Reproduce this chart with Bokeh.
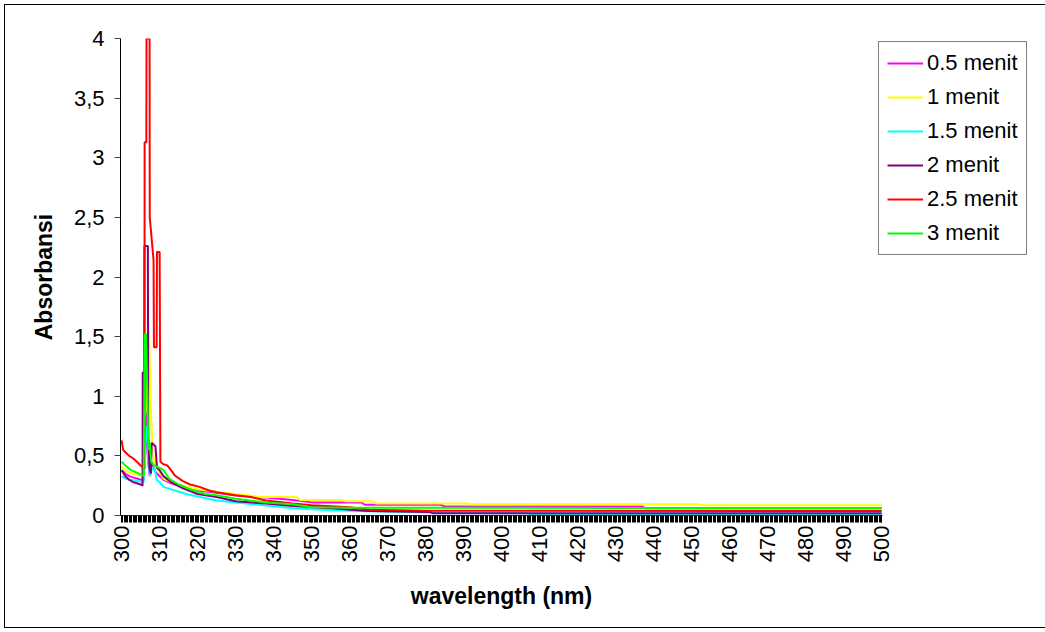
from bokeh.plotting import figure
from bokeh.models import (Range1d, SingleIntervalTicker, CustomJSTickFormatter, Legend,
                          LegendItem)
from bokeh.embed import file_html
from bokeh.resources import INLINE
import math

# ---------------- data ----------------
series_labels = ["0.5 menit", "1 menit", "1.5 menit", "2 menit", "2.5 menit", "3 menit"]
series_colors = ["#FF00FF", "#FFFF00", "#00FFFF", "#800080", "#FF0000", "#00FF00"]

wl_05 = [300, 301, 302, 303, 304, 305, 305.8, 305.9, 306.3, 306.6, 307.0, 307.4, 307.8, 308.4,
         309.0, 310, 311, 313, 316, 320, 325, 330, 338, 345, 350, 363, 364, 384, 385, 437, 438, 500]
abs_05 = [0.38, 0.35, 0.33, 0.32, 0.31, 0.30, 0.30, 1.2, 1.2, 0.6, 0.45, 0.33, 0.45, 0.40,
          0.36, 0.33, 0.30, 0.27, 0.24, 0.21, 0.19, 0.168, 0.15, 0.13, 0.11, 0.11, 0.09, 0.09,
          0.075, 0.075, 0.06, 0.06]

wl_1 = [300, 301, 302, 303, 304, 305, 305.8, 305.9, 306.5, 306.7, 307.2, 307.6, 308.0, 308.4,
        309, 310, 311, 313, 316, 320, 325, 333, 336, 346, 347, 358, 359, 366, 367, 391, 392,
        452, 453, 500]
abs_1 = [0.41, 0.38, 0.36, 0.35, 0.34, 0.335, 0.33, 0.8, 0.9, 1.52, 1.55, 1.0, 0.62, 0.5,
         0.42, 0.36, 0.31, 0.28, 0.25, 0.22, 0.2, 0.17, 0.155, 0.155, 0.13, 0.13, 0.12, 0.12,
         0.10, 0.10, 0.094, 0.094, 0.085, 0.085]

wl_15 = [300, 301, 302, 303, 304, 305, 305.8, 305.9, 306.4, 306.8, 307.0, 307.5, 308.0, 308.7,
         309.2, 310, 311, 314, 317, 320, 325, 330, 338, 345, 355, 365, 384, 407, 408, 500]
abs_15 = [0.33, 0.31, 0.30, 0.295, 0.29, 0.285, 0.28, 0.7, 0.75, 0.6, 0.45, 0.33, 0.40, 0.40,
          0.30, 0.28, 0.24, 0.21, 0.18, 0.16, 0.126, 0.11, 0.084, 0.06, 0.044, 0.035, 0.024,
          0.018, 0.008, 0.008]

wl_2 = [300, 301, 302, 303, 304, 305, 305.5, 305.55, 305.95, 306.0, 306.9, 307.0, 307.3, 307.7,
        307.9, 308.9, 309.3, 310, 311, 313, 316, 320, 325, 330, 338, 345, 355, 365, 381, 382, 500]
abs_2 = [0.38, 0.33, 0.30, 0.28, 0.27, 0.26, 0.25, 1.2, 1.2, 2.26, 2.26, 0.7, 0.4, 0.35,
         0.61, 0.58, 0.40, 0.38, 0.33, 0.28, 0.23, 0.18, 0.155, 0.12, 0.1, 0.08, 0.06, 0.038,
         0.03, 0.018, 0.018]

wl_25 = [300, 300.4, 301, 302, 303, 304, 305, 306.0, 306.05, 306.5, 306.55, 307.35, 307.4,
         308.4, 308.5, 309.2, 309.3, 310.0, 310.2, 311, 312, 313, 314, 316, 318, 320.5, 323,
         325, 330, 334, 338, 345, 350, 360, 365, 380, 500]
abs_25 = [0.63, 0.55, 0.53, 0.50, 0.48, 0.45, 0.42, 0.39, 3.13, 3.13, 4.0, 4.0, 2.5,
          2.14, 1.41, 1.41, 2.21, 2.21, 0.45, 0.43, 0.42, 0.38, 0.335, 0.29, 0.26, 0.24, 0.21,
          0.195, 0.17, 0.155, 0.126, 0.1, 0.086, 0.07, 0.048, 0.04, 0.038]

wl_3 = [300, 301, 302.5, 304, 305.5, 305.8, 305.9, 306.1, 306.4, 306.8, 307.0, 307.4, 307.8,
        308.5, 310, 311, 312.5, 315, 318, 322, 325, 330, 338, 345, 350, 360, 500]
abs_3 = [0.45, 0.42, 0.38, 0.36, 0.335, 0.34, 0.7, 1.52, 1.52, 1.0, 0.55, 0.6, 0.45,
         0.42, 0.40, 0.38, 0.31, 0.26, 0.22, 0.18, 0.17, 0.14, 0.11, 0.094, 0.07, 0.066, 0.06]

x_tick_step = 10
y_ticks_step = 0.5

series_x = [wl_05, wl_1, wl_15, wl_2, wl_25, wl_3]
series_y = [abs_05, abs_1, abs_15, abs_2, abs_25, abs_3]

# ---------------- figure ----------------
FONT = "Liberation Sans"

p = figure(frame_width=762, frame_height=477, output_backend="svg", toolbar_location=None,
           x_range=Range1d(299.7, 500.2), y_range=Range1d(0, 4),
           min_border_left=120, min_border_right=163, min_border_top=38, min_border_bottom=117)
p.background_fill_color = "white"
p.border_fill_color = None
p.outline_line_color = None
p.xgrid.visible = False
p.ygrid.visible = False
# outer chart border (drawn as the page element's outline)
p.styles = {"outline": "1px solid black", "outline-offset": "-5px"}

renderers = []
for xs, ys, c in zip(series_x, series_y, series_colors):
    r = p.line(xs, ys, line_color=c, line_width=2)
    renderers.append(r)

# x axis
xa = p.xaxis[0]
xa.ticker = SingleIntervalTicker(interval=x_tick_step, num_minor_ticks=30)
xa.axis_line_color = "#333333"
xa.major_tick_line_color = "black"
xa.minor_tick_line_color = "black"
xa.major_tick_out = 7
xa.major_tick_in = 0
xa.minor_tick_out = 7
xa.minor_tick_in = 0
xa.major_label_orientation = math.pi / 2
xa.major_label_text_font = FONT
xa.major_label_text_font_size = "22px"
xa.major_label_text_color = "black"
xa.major_label_standoff = 3
xa.axis_label = "wavelength (nm)"
xa.axis_label_text_font = FONT
xa.axis_label_text_font_style = "bold"
xa.axis_label_text_font_size = "23px"
xa.axis_label_text_color = "black"
xa.axis_label_standoff = 18

# y axis
ya = p.yaxis[0]
ya.ticker = SingleIntervalTicker(interval=y_ticks_step, num_minor_ticks=0)
ya.formatter = CustomJSTickFormatter(code="return tick.toString().replace('.', ',');")
ya.axis_line_color = "black"
ya.major_tick_line_color = "#444444"
ya.major_tick_out = 6
ya.major_tick_in = 0
ya.minor_tick_line_color = None
ya.major_label_text_font = FONT
ya.major_label_text_font_size = "22px"
ya.major_label_text_color = "black"
ya.major_label_standoff = 10
ya.axis_label = "Absorbansi"
ya.axis_label_text_font = FONT
ya.axis_label_text_font_style = "bold"
ya.axis_label_text_font_size = "23px"
ya.axis_label_text_color = "black"
ya.axis_label_standoff = 14

# legend (in the right side panel)
items = [LegendItem(label=l, renderers=[r]) for l, r in zip(series_labels, renderers)]
legend = Legend(items=items, location=(-4, 260))
legend.margin = 0
legend.label_text_font = FONT
legend.label_text_font_size = "22px"
legend.label_text_color = "black"
legend.glyph_width = 36
legend.glyph_height = 20
legend.label_height = 20
legend.label_standoff = 4
legend.spacing = 8
legend.padding = 8
legend.border_line_color = "black"
legend.border_line_width = 1
legend.background_fill_color = "white"
legend.background_fill_alpha = 1
p.add_layout(legend, "right")

open("out.html", "w").write(file_html(p, INLINE))
